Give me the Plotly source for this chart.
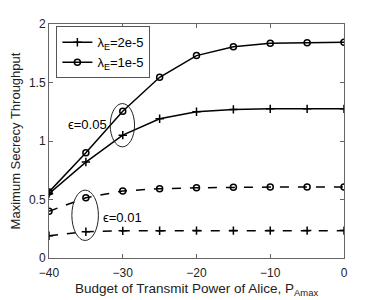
import plotly.graph_objects as go

x = [-40, -35, -30, -25, -20, -15, -10, -5, 0]
sol_2e5 = [0.55, 0.82, 1.05, 1.19, 1.25, 1.27, 1.275, 1.275, 1.275]
sol_1e5 = [0.565, 0.90, 1.255, 1.545, 1.73, 1.805, 1.835, 1.84, 1.845]
dash_2e5 = [0.19, 0.225, 0.232, 0.233, 0.234, 0.234, 0.234, 0.234, 0.234]
dash_1e5 = [0.40, 0.515, 0.573, 0.592, 0.600, 0.605, 0.606, 0.606, 0.606]
xticks = [-40, -30, -20, -10, 0]
yticks = [0, 0.5, 1, 1.5, 2]

FONT = "Liberation Sans, Arial"
fig = go.Figure()
mk_plus = dict(symbol="cross-thin", size=6, line=dict(width=1.5, color="black"), color="black")
mk_circ = dict(symbol="circle-open", size=6, line=dict(width=1.5, color="black"), color="black")

fig.add_trace(go.Scatter(x=x, y=sol_2e5, mode="lines+markers", name="λ<sub>E</sub>=2e-5",
                         line=dict(color="black", width=1.5), marker=mk_plus))
fig.add_trace(go.Scatter(x=x, y=sol_1e5, mode="lines+markers", name="λ<sub>E</sub>=1e-5",
                         line=dict(color="black", width=1.5), marker=mk_circ))
fig.add_trace(go.Scatter(x=x, y=dash_2e5, mode="lines+markers", showlegend=False,
                         line=dict(color="black", width=1.5, dash="dash"), marker=mk_plus))
fig.add_trace(go.Scatter(x=x, y=dash_1e5, mode="lines+markers", showlegend=False,
                         line=dict(color="black", width=1.5, dash="dash"), marker=mk_circ))

fig.add_shape(type="circle", xref="x", yref="y", x0=-31.7, x1=-28.4, y0=0.95, y1=1.32,
              line=dict(color="#222", width=1))
fig.add_shape(type="circle", xref="x", yref="y", x0=-36.9, x1=-33.3, y0=0.15, y1=0.58,
              line=dict(color="#222", width=1))
fig.add_annotation(x=-31.9, y=1.14, text="ϵ=0.05", showarrow=False, xanchor="right",
                   font=dict(family=FONT, size=13, color="black"))
fig.add_annotation(x=-33.0, y=0.345, text="ϵ=0.01", showarrow=False, xanchor="left",
                   font=dict(family=FONT, size=13, color="black"))

axis_common = dict(showline=True, linecolor="#666", linewidth=1, mirror="ticks",
                   ticks="inside", ticklen=4, tickcolor="#666", showgrid=False, zeroline=False,
                   automargin=False,
                   tickfont=dict(family=FONT, size=12, color="#222"))
fig.update_xaxes(range=[-40, 0], tickvals=xticks, ticklabelstandoff=4,
                 title=dict(text="Budget of Transmit Power of Alice, P<sub>Amax</sub>", standoff=4,
                            font=dict(family=FONT, size=13.5, color="#222")),
                 **axis_common)
fig.update_yaxes(range=[0, 2], tickvals=yticks,
                 title=dict(text="Maximum Secrecy Throughput", standoff=6,
                            font=dict(family=FONT, size=13, color="#222")),
                 **axis_common)
fig.update_layout(width=382, height=300, margin=dict(l=41, r=46, t=16, b=50),
                  plot_bgcolor="white", paper_bgcolor="white",
                  legend=dict(x=0.025, y=0.99, xanchor="left", yanchor="top", bgcolor="white",
                              bordercolor="#555", borderwidth=1, tracegroupgap=0, itemwidth=30,
                              font=dict(family=FONT, size=13, color="black")))
fig.write_html("out.html")
